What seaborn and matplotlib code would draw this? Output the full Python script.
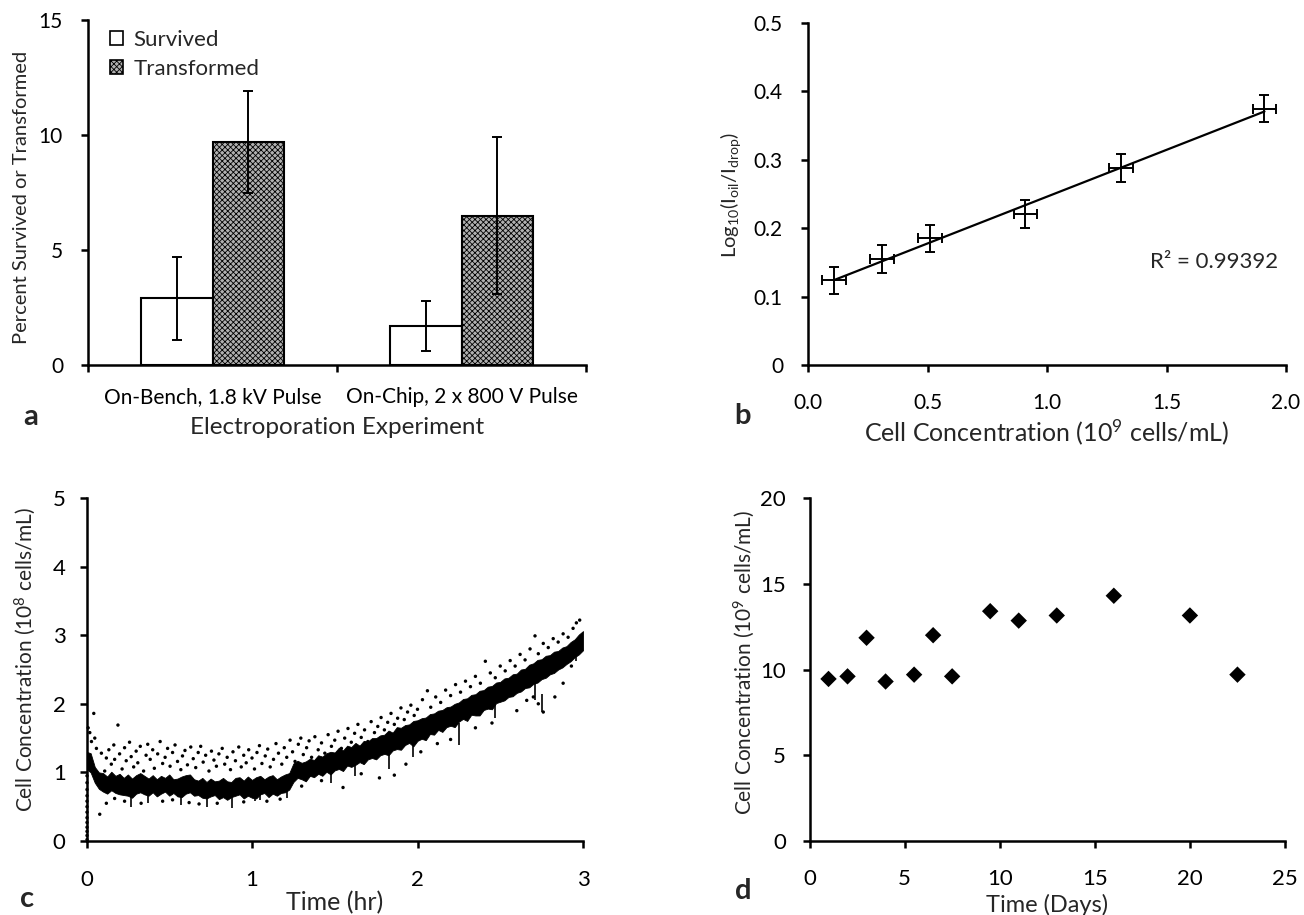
import numpy as np
import pandas as pd
import matplotlib
matplotlib.use('Agg')
from matplotlib import pyplot as plt
from matplotlib.patches import Patch
import seaborn as sns

sns.set_style('ticks')
plt.rcParams['font.family'] = ['Lato', 'DejaVu Sans']
plt.rcParams['font.weight'] = 'normal'
plt.rcParams['mathtext.fontset'] = 'custom'
plt.rcParams['mathtext.rm'] = 'Lato'
plt.rcParams['mathtext.default'] = 'regular'
plt.rcParams['hatch.linewidth'] = 0.6

# ---- panel a: electroporation ----
experiments = ['On-Bench, 1.8 kV Pulse', 'On-Chip, 2 x 800 V Pulse']
survived = [2.9, 1.7]
survived_err = [1.8, 1.1]
transformed = [9.7, 6.5]
transformed_err = [2.2, 3.4]

# ---- panel b: calibration ----
conc_b = [0.11, 0.31, 0.51, 0.91, 1.31, 1.91]
conc_b_err = [0.05, 0.05, 0.05, 0.05, 0.05, 0.05]
log_ratio = [0.124, 0.155, 0.185, 0.221, 0.288, 0.375]
log_ratio_err = [0.02, 0.02, 0.02, 0.02, 0.02, 0.02]
r2_text = 'R\u00b2 = 0.99392'

# ---- panel c: growth over 3 hours (edges of the dense band) ----
time_c = [0.000, 0.025, 0.050, 0.075, 0.100, 0.125, 0.150, 0.175, 0.200, 0.225,
          0.250, 0.275, 0.300, 0.325, 0.350, 0.375, 0.400, 0.425, 0.450, 0.475,
          0.500, 0.525, 0.550, 0.575, 0.600, 0.625, 0.650, 0.675, 0.700, 0.725,
          0.750, 0.775, 0.800, 0.825, 0.850, 0.875, 0.900, 0.925, 0.950, 0.975,
          1.000, 1.025, 1.050, 1.075, 1.100, 1.125, 1.150, 1.175, 1.200, 1.225,
          1.250, 1.275, 1.300, 1.325, 1.350, 1.375, 1.400, 1.425, 1.450, 1.475,
          1.500, 1.525, 1.550, 1.575, 1.600, 1.625, 1.650, 1.675, 1.700, 1.725,
          1.750, 1.775, 1.800, 1.825, 1.850, 1.875, 1.900, 1.925, 1.950, 1.975,
          2.000, 2.025, 2.050, 2.075, 2.100, 2.125, 2.150, 2.175, 2.200, 2.225,
          2.250, 2.275, 2.300, 2.325, 2.350, 2.375, 2.400, 2.425, 2.450, 2.475,
          2.500, 2.525, 2.550, 2.575, 2.600, 2.625, 2.650, 2.675, 2.700, 2.725,
          2.750, 2.775, 2.800, 2.825, 2.850, 2.875, 2.900, 2.925, 2.950, 2.975,
          3.000]
band_low = [1.05, 1.00, 0.85, 0.76, 0.72, 0.69, 0.74, 0.70, 0.68, 0.67,
            0.66, 0.63, 0.69, 0.71, 0.68, 0.66, 0.71, 0.65, 0.69, 0.72,
            0.66, 0.70, 0.65, 0.64, 0.69, 0.71, 0.66, 0.67, 0.63, 0.62,
            0.65, 0.67, 0.61, 0.64, 0.60, 0.64, 0.66, 0.68, 0.62, 0.66,
            0.63, 0.62, 0.68, 0.70, 0.64, 0.69, 0.66, 0.70, 0.71, 0.75,
            0.86, 0.92, 0.90, 0.87, 0.95, 0.93, 0.98, 0.95, 1.01, 0.97,
            1.03, 1.05, 1.02, 1.10, 1.08, 1.11, 1.15, 1.12, 1.19, 1.21,
            1.19, 1.25, 1.27, 1.25, 1.32, 1.34, 1.33, 1.40, 1.43, 1.38,
            1.46, 1.49, 1.47, 1.56, 1.55, 1.62, 1.59, 1.66, 1.68, 1.66,
            1.74, 1.78, 1.75, 1.84, 1.83, 1.83, 1.91, 1.93, 1.92, 2.01,
            2.03, 2.05, 2.10, 2.11, 2.16, 2.18, 2.23, 2.24, 2.29, 2.31,
            2.36, 2.38, 2.43, 2.45, 2.50, 2.53, 2.58, 2.62, 2.68, 2.72,
            2.78]
band_high = [1.30, 1.28, 1.08, 1.00, 0.99, 0.94, 1.01, 0.95, 0.98, 0.92,
             0.97, 0.91, 0.96, 0.99, 0.95, 0.91, 0.96, 0.90, 0.95, 0.92,
             0.97, 0.90, 0.91, 0.94, 0.96, 0.97, 0.90, 0.88, 0.92, 0.86,
             0.91, 0.87, 0.88, 0.92, 0.87, 0.86, 0.92, 0.93, 0.88, 0.94,
             0.89, 0.93, 0.95, 0.90, 0.94, 0.96, 0.90, 0.94, 0.97, 0.99,
             1.13, 1.17, 1.14, 1.16, 1.20, 1.18, 1.25, 1.23, 1.28, 1.30,
             1.29, 1.36, 1.32, 1.39, 1.37, 1.43, 1.39, 1.46, 1.45, 1.50,
             1.50, 1.54, 1.55, 1.61, 1.58, 1.66, 1.65, 1.69, 1.70, 1.75,
             1.76, 1.79, 1.80, 1.85, 1.86, 1.90, 1.91, 1.95, 1.96, 2.00,
             2.02, 2.07, 2.08, 2.13, 2.14, 2.19, 2.20, 2.25, 2.26, 2.31,
             2.32, 2.37, 2.38, 2.43, 2.44, 2.50, 2.51, 2.57, 2.59, 2.64,
             2.65, 2.70, 2.71, 2.76, 2.77, 2.82, 2.84, 2.90, 2.94, 3.01,
             3.06]
# short downward streaks below the band
spike_time = [0.27, 0.37, 0.57, 0.73, 0.88, 1.02, 1.05, 1.21, 1.48, 1.62,
              1.83, 1.97, 2.25, 2.47, 2.71, 2.75, 2.96]
spike_low = [0.50, 0.55, 0.52, 0.50, 0.48, 0.58, 0.60, 0.63, 0.85, 0.95,
             1.05, 1.22, 1.40, 1.80, 2.05, 1.88, 2.62]
spike_high = [0.75, 0.70, 0.70, 0.70, 0.68, 0.70, 0.72, 0.75, 1.05, 1.15,
              1.30, 1.45, 1.72, 2.00, 2.40, 2.15, 2.80]
# readings sitting on the y axis at t = 0
axis_conc = [0.02, 0.08, 0.14, 0.20, 0.27, 0.34, 0.42, 0.50, 0.58, 0.66,
             0.75, 0.85, 0.95]
axis_time = [0.003] * len(axis_conc)
# sparse readings above the band
upper_time = [0.01, 0.02, 0.03, 0.044, 0.05, 0.06,
              0.09, 0.11, 0.12, 0.135, 0.15, 0.165, 0.17, 0.19, 0.20, 0.215,
              0.23, 0.24, 0.26, 0.27, 0.285, 0.30, 0.31, 0.325, 0.345, 0.36,
              0.37, 0.385, 0.40, 0.41, 0.43, 0.445, 0.46, 0.475, 0.49, 0.505,
              0.52, 0.535, 0.55, 0.57, 0.58, 0.595, 0.61, 0.63, 0.645, 0.66,
              0.675, 0.69, 0.705, 0.72, 0.74, 0.755, 0.77, 0.785, 0.80, 0.82,
              0.835, 0.85, 0.87, 0.885, 0.90, 0.92, 0.935, 0.95, 0.965, 0.98,
              1.00, 1.015, 1.03, 1.045, 1.06, 1.08, 1.095, 1.11, 1.13, 1.145,
              1.16, 1.18, 1.195, 1.21, 1.23, 1.245, 1.26, 1.28, 1.295, 1.31,
              1.33, 1.345, 1.36, 1.38, 1.40, 1.42, 1.44, 1.46, 1.48, 1.50,
              1.52, 1.54, 1.56, 1.58, 1.60, 1.62, 1.64, 1.66, 1.68, 1.70,
              1.72, 1.74, 1.76, 1.78, 1.80, 1.82, 1.84, 1.86, 1.88, 1.90,
              1.92, 1.94, 1.96, 1.98, 2.00, 2.03, 2.06, 2.08, 2.11, 2.14,
              2.17, 2.20, 2.23, 2.26, 2.29, 2.32, 2.35, 2.38, 2.41, 2.44,
              2.47, 2.50, 2.53, 2.56, 2.59, 2.62, 2.65, 2.68, 2.71, 2.73,
              2.76, 2.79, 2.82, 2.85, 2.88, 2.91, 2.94, 2.96, 2.98]
upper_conc = [1.65, 1.58, 1.45, 1.86, 1.50, 1.35,
              1.28, 1.02, 1.21, 1.33, 1.12, 1.40, 1.19, 1.69, 1.27, 1.05,
              1.36, 1.17, 1.44, 1.23, 1.08, 1.31, 1.14, 1.38, 1.02, 1.25,
              1.41, 1.19, 1.33, 1.06, 1.27, 1.45, 1.13, 1.22, 1.35, 1.09,
              1.29, 1.40, 1.16, 1.04, 1.24, 1.32, 1.11, 1.37, 1.20, 1.07,
              1.29, 1.38, 1.15, 1.25, 1.02, 1.31, 1.18, 1.09, 1.27, 1.35,
              1.12, 1.22, 1.04, 1.30, 1.17, 1.37, 1.08, 1.25, 1.14, 1.33,
              1.21, 1.05, 1.29, 1.39, 1.13, 1.24, 1.34, 1.08, 1.19, 1.42,
              1.28, 1.12, 1.36, 1.22, 1.47, 1.30, 1.16, 1.41, 1.50, 1.26,
              1.36, 1.46, 1.22, 1.52, 1.33, 1.43, 1.28, 1.55, 1.38, 1.47,
              1.60, 1.35, 1.50, 1.64, 1.44, 1.57, 1.70, 1.51, 1.62, 1.45,
              1.74, 1.58, 1.67, 1.80, 1.62, 1.73, 1.86, 1.70, 1.79, 1.94,
              1.77, 1.88, 1.98, 1.83, 1.92, 2.06, 2.19, 1.95, 2.10, 2.02,
              2.20, 2.12, 2.28, 2.17, 2.33, 2.25, 2.40, 2.30, 2.62, 2.45,
              2.38, 2.55, 2.48, 2.63, 2.55, 2.72, 2.64, 2.80, 2.99, 2.73,
              2.88, 2.82, 2.95, 2.90, 3.02, 2.97, 3.10, 3.18, 3.22]
# sparse readings below the band
lower_time = [0.08, 0.12, 0.17, 0.23, 0.33, 0.46, 0.52, 0.62, 0.68, 0.79,
              0.95, 1.09, 1.17, 1.30, 1.42, 1.55, 1.66, 1.77, 1.86, 1.93,
              2.02, 2.12, 2.20, 2.35, 2.45, 2.60, 2.66, 2.70, 2.73, 2.76,
              2.77, 2.83, 2.88, 2.93]
lower_conc = [0.39, 0.55, 0.62, 0.58, 0.55, 0.58, 0.60, 0.56, 0.54, 0.55,
              0.57, 0.58, 0.61, 0.80, 0.88, 0.78, 0.98, 0.92, 0.96, 1.12,
              1.30, 1.42, 1.48, 1.65, 1.72, 1.90, 2.05, 2.10, 2.00, 1.88,
              2.55, 2.10, 2.30, 2.55]

# ---- panel d: long-term culture ----
days = [1, 2, 3, 4, 5.5, 6.5, 7.5, 9.5, 11, 13, 16, 20, 22.5]
conc_d = [9.45, 9.6, 11.85, 9.3, 9.7, 12.0, 9.6, 13.4, 12.85, 13.15, 14.3, 13.15, 9.7]

W, H = 1304, 915
fig = plt.figure(figsize=(W / 100, H / 100), dpi=100)


def box(left, top, right, bottom):
    return [left / W, 1 - bottom / H, (right - left) / W, (bottom - top) / H]


def style_axes(ax, ypad=12, xpad=15):
    sns.despine(ax=ax)
    for s in ['left', 'bottom']:
        ax.spines[s].set_linewidth(1.8)
        ax.spines[s].set_color('black')
    ax.tick_params(axis='both', which='both', direction='out', width=1.8, length=5,
                   color='black', labelsize=15, labelcolor='black')
    ax.tick_params(axis='y', pad=ypad)
    ax.tick_params(axis='x', pad=xpad)


def place_labels(ax, left, top, right, bottom, xlab_y, ylab_x, ylab_y=None):
    ax.xaxis.set_label_coords(0.5, (bottom - xlab_y) / (bottom - top))
    ax.xaxis.label.set_va('center')
    if ylab_y is None:
        ylab_y = (top + bottom) / 2
    ax.yaxis.set_label_coords((ylab_x - left) / (right - left), (bottom - ylab_y) / (bottom - top))
    ax.yaxis.label.set_va('center')


# panel a
A = (88, 20, 586, 365)
ax1 = fig.add_axes(box(*A))
df_a = pd.DataFrame({
    'experiment': experiments + experiments,
    'series': ['Survived'] * 2 + ['Transformed'] * 2,
    'percent': survived + transformed,
})
sns.barplot(data=df_a, x='experiment', y='percent', hue='series', ax=ax1,
            palette={'Survived': 'white', 'Transformed': '#b0b0b0'}, saturation=1,
            edgecolor='black', linewidth=1.5, width=0.575, errorbar=None, legend=False)
for cont, errs in zip(ax1.containers, [survived_err, transformed_err]):
    for bar, e in zip(cont, errs):
        ax1.errorbar(bar.get_x() + bar.get_width() / 2, bar.get_height(), yerr=e,
                     fmt='none', ecolor='black', elinewidth=1.4, capsize=3.5, capthick=1.4)
for bar in ax1.containers[1]:
    bar.set_hatch('xxxxxx')
    if hasattr(bar, 'set_hatchcolor'):
        bar.set_hatchcolor('#555555')
style_axes(ax1, ypad=13)
ax1.set_xlim(-0.5, 1.5)
ax1.set_ylim(0, 15)
ax1.set_yticks([0, 5, 10, 15])
ax1.set_xticks([-0.5, 0.5, 1.5], minor=True)
ax1.tick_params(axis='x', which='major', length=0, pad=16, labelsize=15)
ax1.tick_params(axis='x', which='minor', length=5, width=1.8)
ax1.set_xlabel('Electroporation Experiment', fontsize=17.5)
ax1.set_ylabel('Percent Survived or Transformed', fontsize=14.5)
place_labels(ax1, *A, xlab_y=428, ylab_x=22, ylab_y=197)
handles = [Patch(facecolor='white', edgecolor='black', linewidth=1.2),
           Patch(facecolor='#b0b0b0', edgecolor='black', linewidth=1.2, hatch='xxxxxx')]
ax1.legend(handles, ['Survived', 'Transformed'], loc='upper left', bbox_to_anchor=(0.044, 0.972),
           frameon=False, fontsize=16, handlelength=0.6, handleheight=0.6,
           handletextpad=0.45, labelspacing=0.4, borderaxespad=0, borderpad=0)

# panel b
B = (808, 23, 1286, 365)
ax2 = fig.add_axes(box(*B))
sns.regplot(x=conc_b, y=log_ratio, ax=ax2, ci=None, scatter=False,
            line_kws=dict(color='black', lw=1.6))
ax2.errorbar(conc_b, log_ratio, xerr=conc_b_err, yerr=log_ratio_err, fmt='none',
             ecolor='black', elinewidth=1.4, capsize=3.5, capthick=1.4)
style_axes(ax2, ypad=13)
ax2.set_xlim(0, 2.0)
ax2.set_ylim(0, 0.5)
ax2.set_xticks([0, 0.5, 1.0, 1.5, 2.0])
ax2.set_xticklabels(['0.0', '0.5', '1.0', '1.5', '2.0'])
ax2.set_yticks([0, 0.1, 0.2, 0.3, 0.4, 0.5])
ax2.set_yticklabels(['0', '0.1', '0.2', '0.3', '0.4', '0.5'])
ax2.set_xlabel('Cell Concentration (10$^{9}$ cells/mL)', fontsize=18)
ax2.set_ylabel('Log$_{10}$(I$_{oil}$/I$_{drop}$)', fontsize=14.5)
place_labels(ax2, *B, xlab_y=432, ylab_x=731, ylab_y=195)
ax2.text(1.70, 0.151, r2_text, fontsize=16, ha='center', va='center')

# panel c
C = (86.5, 498, 583, 841)
ax3 = fig.add_axes(box(*C))
ax3.fill_between(time_c, band_low, band_high, color='black', lw=0.6)
ax3.vlines(spike_time, spike_low, spike_high, color='black', lw=1.2)
sns.scatterplot(x=upper_time + lower_time + axis_time, y=upper_conc + lower_conc + axis_conc,
                ax=ax3, color='black', s=6, edgecolor='none', legend=False, clip_on=False)
style_axes(ax3, ypad=10, xpad=16)
ax3.set_xlim(0, 3)
ax3.set_ylim(0, 5)
ax3.set_xticks([0, 1, 2, 3])
ax3.set_yticks([0, 1, 2, 3, 4, 5])
ax3.tick_params(axis='both', labelsize=16)
ax3.set_xlabel('Time (hr)', fontsize=18)
ax3.set_ylabel('Cell Concentration (10$^{8}$ cells/mL)', fontsize=15)
place_labels(ax3, *C, xlab_y=903, ylab_x=25, ylab_y=659)

# panel d
D = (809.5, 498, 1285, 841)
ax4 = fig.add_axes(box(*D))
sns.scatterplot(x=days, y=conc_d, ax=ax4, marker='D', s=70, color='black',
                edgecolor='none', legend=False)
style_axes(ax4, ypad=12, xpad=15)
ax4.set_xlim(0, 25)
ax4.set_ylim(0, 20)
ax4.set_xticks([0, 5, 10, 15, 20, 25])
ax4.set_yticks([0, 5, 10, 15, 20])
ax4.tick_params(axis='both', labelsize=16)
ax4.set_xlabel('Time (Days)', fontsize=17)
ax4.set_ylabel('Cell Concentration (10$^{9}$ cells/mL)', fontsize=15)
place_labels(ax4, *D, xlab_y=905, ylab_x=744, ylab_y=662)

# panel letters
for letter, x, y in [('a', 31, 417), ('b', 742, 416), ('c', 27, 899), ('d', 743, 891)]:
    fig.text(x / W, 1 - y / H, letter, fontsize=21, fontweight='bold', ha='center', va='center')

fig.savefig('out.png', dpi=100)
